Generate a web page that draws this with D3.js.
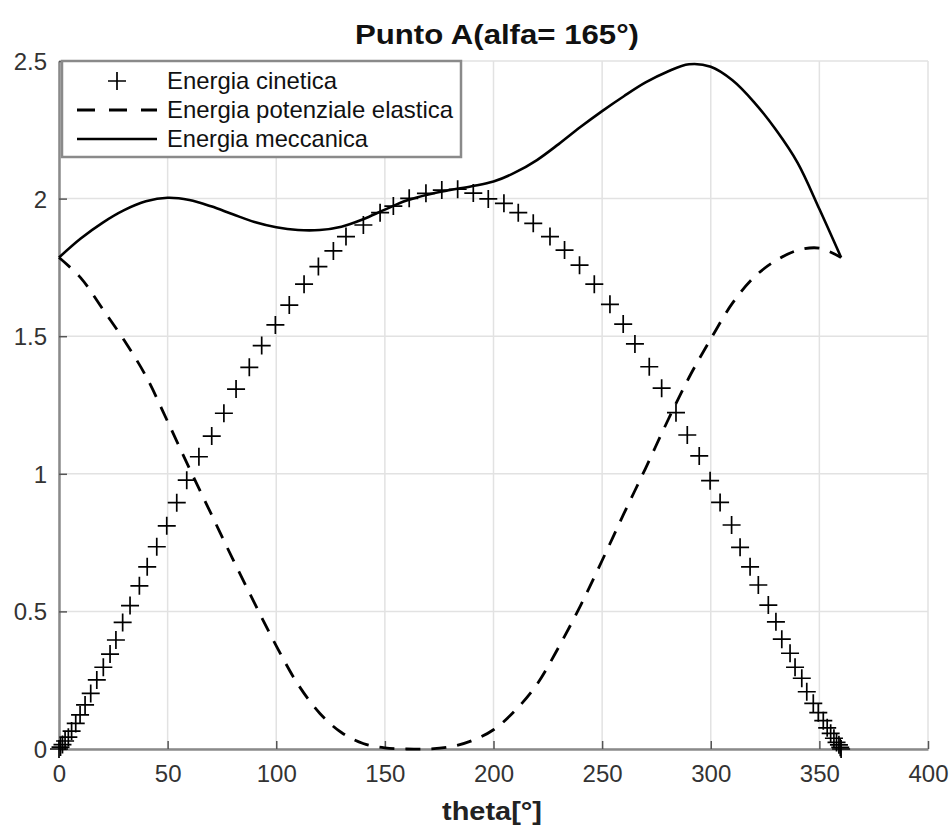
<!DOCTYPE html>
<html>
<head>
<meta charset="utf-8">
<script src="https://cdn.jsdelivr.net/npm/d3@7"></script>
<style>
  body { margin: 0; background: #fff; }
  text { font-family: "Liberation Sans", Arial, sans-serif; }
</style>
</head>
<body>
<div id="plot"></div>
<script>
// values

// Energia cinetica (markers "+")
const thetaK = [0, 0.7, 1.6, 2.8, 4.3, 5.8, 7.7, 9.7, 12.0, 14.6, 17.4, 20.4, 23.5, 26.2, 29.3, 32.7,
  37.0, 40.6, 45.0, 49.6, 54.2, 58.8, 64.4, 70.3, 75.9, 81.5, 87.6, 93.3, 99.6, 106.0, 112.8, 119.4,
  126.3, 132.1, 140.1, 147.8, 153.9, 161.2, 168.9, 176.2, 183.5, 190.7, 197.6, 204.8, 211.4, 218.3,
  226.0, 232.7, 239.6, 246.4, 253.6, 259.7, 265.1, 271.7, 277.4, 284.0, 289.2, 294.7, 299.7, 304.3,
  309.6, 313.5, 318.1, 321.9, 326.5, 330.0, 332.7, 336.5, 338.8, 341.9, 344.2, 347.2, 349.5, 351.8,
  353.6, 355.2, 356.7, 357.9, 359.0, 359.6, 360];
const kinetic = [0, 0.007, 0.016, 0.029, 0.043, 0.065, 0.093, 0.124, 0.160, 0.202, 0.251, 0.297, 0.345, 0.396, 0.460, 0.521,
  0.593, 0.662, 0.735, 0.811, 0.895, 0.977, 1.062, 1.137, 1.220, 1.308, 1.387, 1.466, 1.541, 1.613, 1.689, 1.753,
  1.810, 1.862, 1.904, 1.949, 1.973, 2.001, 2.019, 2.031, 2.034, 2.020, 1.999, 1.983, 1.949, 1.910,
  1.862, 1.813, 1.758, 1.689, 1.616, 1.544, 1.472, 1.389, 1.311, 1.222, 1.141, 1.065, 0.975, 0.896,
  0.814, 0.733, 0.662, 0.596, 0.523, 0.462, 0.399, 0.348, 0.297, 0.257, 0.208, 0.166, 0.132, 0.103,
  0.077, 0.057, 0.039, 0.024, 0.015, 0.006, 0];

// Energia potenziale elastica (dashed)
const thetaP = [0, 10, 20, 30, 40, 50, 60, 70, 80, 90, 100, 110, 120, 130, 140, 150, 160, 170,
  180, 190, 200, 210, 220, 230, 240, 250, 260, 270, 280, 290, 300, 310, 320, 330, 340, 350, 360];
const potential = [1.786, 1.712, 1.60, 1.485, 1.355, 1.19, 1.02, 0.855, 0.69, 0.53, 0.375, 0.235, 0.13, 0.06, 0.02, 0.004, 0.0, 0.0,
  0.008, 0.03, 0.07, 0.14, 0.235, 0.37, 0.52, 0.685, 0.855, 1.02, 1.19, 1.35, 1.49, 1.62, 1.715, 1.775, 1.812, 1.82, 1.786];

// Energia meccanica (solid)
const thetaM = [0, 10, 20, 30, 40, 50, 60, 70, 80, 90, 100, 110, 120, 130, 140, 150, 160, 170, 180,
  190, 200, 210, 220, 230, 240, 250, 260, 270, 280, 290, 300, 310, 320, 330, 340, 350, 360];
const mechanical = [1.786, 1.855, 1.912, 1.958, 1.990, 2.003, 1.995, 1.972, 1.943, 1.915, 1.896, 1.886, 1.886, 1.898, 1.925, 1.960, 1.993, 2.015, 2.031,
  2.045, 2.062, 2.095, 2.14, 2.198, 2.26, 2.318, 2.372, 2.422, 2.461, 2.488, 2.479, 2.43, 2.35, 2.25, 2.13, 1.962, 1.786];

const xTicks = [0, 50, 100, 150, 200, 250, 300, 350, 400];
const yTicks = [0, 0.5, 1, 1.5, 2, 2.5];
const legendLabels = ["Energia cinetica", "Energia potenziale elastica", "Energia meccanica"];

const W = 952, H = 826;
const plot = {left: 59, right: 928, top: 61, bottom: 749};

const svg = d3.select("div#plot")
  .append("svg")
  .attr("width", W)
  .attr("height", H);

const x = d3.scaleLinear().domain([0, 400]).range([plot.left, plot.right]);
const y = d3.scaleLinear().domain([0, 2.5]).range([plot.bottom, plot.top]);

// grid
svg.append("g")
  .selectAll("line")
  .data(xTicks)
  .join("line")
  .attr("x1", d => x(d)).attr("x2", d => x(d))
  .attr("y1", plot.top).attr("y2", plot.bottom)
  .attr("stroke", "#e2e2e2").attr("stroke-width", 1.5);
svg.append("g")
  .selectAll("line")
  .data(yTicks)
  .join("line")
  .attr("x1", plot.left).attr("x2", plot.right)
  .attr("y1", d => y(d)).attr("y2", d => y(d))
  .attr("stroke", "#e2e2e2").attr("stroke-width", 1.5);

// axes (ticks pointing inside)
const xAxis = svg.append("g")
  .attr("transform", `translate(0,${plot.bottom})`)
  .call(d3.axisBottom(x).tickValues(xTicks).tickSizeInner(-8).tickSizeOuter(0).tickPadding(16));
const yAxis = svg.append("g")
  .attr("transform", `translate(${plot.left},0)`)
  .call(d3.axisLeft(y).tickValues(yTicks).tickFormat(d3.format("~g")).tickSizeInner(-8).tickSizeOuter(0).tickPadding(12));

[xAxis, yAxis].forEach(a => {
  a.select(".domain").attr("stroke", "#8a8a8a").attr("stroke-width", 2.5);
  a.selectAll(".tick line").attr("stroke", "#555").attr("stroke-width", 1.5);
  a.selectAll(".tick text")
    .attr("fill", "#333")
    .style("font-size", "24px")
    .style("font-family", "'Liberation Sans', Arial, sans-serif");
});
yAxis.selectAll(".tick text").attr("dy", "0.35em");

// data lines
const line = d3.line()
  .x(d => x(d[0]))
  .y(d => y(d[1]))
  .curve(d3.curveCatmullRom.alpha(0.5));

svg.append("path")
  .datum(d3.zip(thetaM, mechanical))
  .attr("d", line)
  .attr("fill", "none")
  .attr("stroke", "#000")
  .attr("stroke-width", 2.6);

svg.append("path")
  .datum(d3.zip(thetaP, potential))
  .attr("d", line)
  .attr("fill", "none")
  .attr("stroke", "#000")
  .attr("stroke-width", 2.8)
  .attr("stroke-dasharray", "15,11");

// plus markers
const plusPath = s => `M${-s},0H${s}M0,${-s}V${s}`;
svg.append("g")
  .selectAll("path")
  .data(d3.zip(thetaK, kinetic))
  .join("path")
  .attr("transform", d => `translate(${x(d[0])},${y(d[1])})`)
  .attr("d", plusPath(9))
  .attr("stroke", "#000")
  .attr("stroke-width", 1.7)
  .attr("fill", "none");

// title and x label
svg.append("text")
  .attr("x", 497)
  .attr("y", 44)
  .attr("text-anchor", "middle")
  .attr("textLength", 284)
  .attr("lengthAdjust", "spacingAndGlyphs")
  .style("font-size", "27px")
  .style("font-weight", "bold")
  .attr("fill", "#111")
  .text("Punto A(alfa= 165°)");

svg.append("text")
  .attr("x", 492)
  .attr("y", 820)
  .attr("text-anchor", "middle")
  .attr("textLength", 100)
  .attr("lengthAdjust", "spacingAndGlyphs")
  .style("font-size", "26px")
  .style("font-weight", "bold")
  .attr("fill", "#222")
  .text("theta[°]");

// legend
const legend = svg.append("g");
legend.append("rect")
  .attr("x", 62).attr("y", 61)
  .attr("width", 399).attr("height", 96)
  .attr("fill", "#fff")
  .attr("stroke", "#8a8a8a")
  .attr("stroke-width", 2.5);

const rowY = [81, 110, 139];
legend.append("path")
  .attr("transform", `translate(117,${rowY[0]})`)
  .attr("d", plusPath(9))
  .attr("stroke", "#000").attr("stroke-width", 1.7);
legend.append("line")
  .attr("x1", 77).attr("x2", 157)
  .attr("y1", rowY[1]).attr("y2", rowY[1])
  .attr("stroke", "#000").attr("stroke-width", 2.8)
  .attr("stroke-dasharray", "18,14");
legend.append("line")
  .attr("x1", 77).attr("x2", 157)
  .attr("y1", rowY[2]).attr("y2", rowY[2])
  .attr("stroke", "#000").attr("stroke-width", 2.6);

const legendLen = [170, 286, 201];
legend.selectAll("text")
  .data(legendLabels)
  .join("text")
  .attr("x", 167)
  .attr("y", (d, i) => rowY[i] + 8)
  .attr("textLength", (d, i) => legendLen[i])
  .attr("lengthAdjust", "spacingAndGlyphs")
  .style("font-size", "24px")
  .attr("fill", "#111")
  .text(d => d);
</script>
</body>
</html>
